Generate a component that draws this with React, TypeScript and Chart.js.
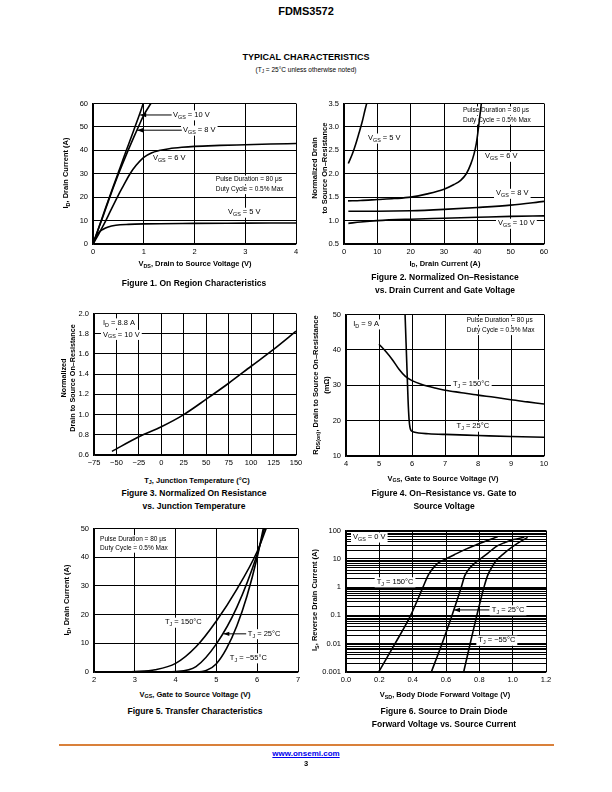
import React, { useEffect, useRef } from 'react';
import { Chart, registerables } from 'chart.js';
Chart.register(...registerables);

type P = [number, number];

// ---------- Figure 1: On Region Characteristics ----------
const fig1XTicks = [0, 1, 2, 3, 4];
const fig1XLabels = ['0', '1', '2', '3', '4'];
const fig1YTicks = [0, 10, 20, 30, 40, 50, 60];
const fig1YLabels = ['0', '10', '20', '30', '40', '50', '60'];
const fig1Vgs10: P[] = [[0, 0], [0.1, 6.2], [0.2, 12.4], [0.3, 18.6], [0.4, 24.6], [0.5, 30.6], [0.6, 36.6], [0.7, 42.5], [0.8, 48.4], [0.9, 54.3], [0.99, 60]];
const fig1Vgs8: P[] = [[0, 0], [0.1, 6], [0.2, 12], [0.3, 18.1], [0.4, 24.1], [0.5, 29.8], [0.6, 35.2], [0.7, 40.4], [0.8, 45.4], [0.9, 50.3], [1.0, 55], [1.14, 60]];
const fig1Vgs6: P[] = [[0, 0], [0.07, 2.6], [0.14, 5.4], [0.25, 9.9], [0.34, 13.9], [0.5, 20.9], [0.6, 24.9], [0.73, 30], [0.85, 33.6], [1.0, 37], [1.15, 38.9], [1.3, 39.9], [1.5, 40.7], [1.75, 41.3], [2, 41.7], [2.5, 42.1], [3, 42.4], [3.5, 42.7], [4, 42.9]];
const fig1Vgs5: P[] = [[0, 0], [0.05, 2.8], [0.1, 4.6], [0.2, 6.3], [0.3, 7.3], [0.45, 8.0], [0.7, 8.4], [1, 8.6], [2, 8.8], [3, 8.9], [4, 9.0]];

// ---------- Figure 2: Normalized On-Resistance vs Drain Current ----------
const fig2XTicks = [0, 10, 20, 30, 40, 50, 60];
const fig2XLabels = ['0', '10', '20', '30', '40', '50', '60'];
const fig2YTicks = [0.5, 1.0, 1.5, 2.0, 2.5, 3.0, 3.5];
const fig2YLabels = ['0.5', '1.0', '1.5', '2.0', '2.5', '3.0', '3.5'];
const fig2Vgs5: P[] = [[1.3, 2.22], [2.5, 2.42], [3.5, 2.63], [4.5, 2.87], [5.5, 3.12], [6.3, 3.36], [6.8, 3.5]];
const fig2Vgs6: P[] = [[1.2, 1.42], [5, 1.43], [10, 1.45], [15, 1.47], [20, 1.5], [25, 1.57], [30, 1.67], [33, 1.77], [35, 1.86], [36.7, 2.0], [38, 2.2], [39, 2.42], [39.7, 2.65], [40.2, 2.9], [40.7, 3.2], [41.2, 3.5]];
const fig2Vgs8: P[] = [[1.3, 1.2], [10, 1.2], [20, 1.21], [30, 1.24], [40, 1.28], [50, 1.33], [60, 1.41]];
const fig2Vgs10: P[] = [[1.3, 0.94], [5, 0.97], [10, 1.0], [20, 1.03], [30, 1.05], [40, 1.07], [50, 1.09], [60, 1.1]];

// ---------- Figure 3: Normalized On Resistance vs Junction Temperature ----------
const fig3XTicks = [-75, -50, -25, 0, 25, 50, 75, 100, 125, 150];
const fig3XLabels = ['−75', '−50', '−25', '0', '25', '50', '75', '100', '125', '150'];
const fig3YTicks = [0.6, 0.8, 1.0, 1.2, 1.4, 1.6, 1.8, 2.0];
const fig3YLabels = ['0.6', '0.8', '1.0', '1.2', '1.4', '1.6', '1.8', '2.0'];
const fig3Temp = [-55, -25, 0, 25, 50, 75, 100, 125, 150];
const fig3Rnorm = [0.636, 0.78, 0.88, 1.0, 1.152, 1.31, 1.478, 1.645, 1.825];

// ---------- Figure 4: On-Resistance vs Gate to Source Voltage ----------
const fig4XTicks = [4, 5, 6, 7, 8, 9, 10];
const fig4XLabels = ['4', '5', '6', '7', '8', '9', '10'];
const fig4YTicks = [10, 20, 30, 40, 50];
const fig4YLabels = ['10', '20', '30', '40', '50'];
const fig4Tj25: P[] = [[5.79, 50], [5.82, 42], [5.85, 34], [5.88, 26], [5.91, 20.5], [5.94, 18], [5.98, 17.1], [6.05, 16.8], [6.2, 16.5], [6.5, 16.3], [7, 16.1], [8, 15.8], [9, 15.5], [10, 15.3]];
const fig4Tj150: P[] = [[5, 41.6], [5.2, 39.6], [5.4, 37.3], [5.6, 34.6], [5.8, 32.5], [6, 31.3], [6.3, 30.2], [6.7, 29.2], [7, 28.6], [7.5, 27.9], [8, 27.2], [8.5, 26.6], [9, 25.9], [9.5, 25.3], [10, 24.7]];

// ---------- Figure 5: Transfer Characteristics ----------
const fig5XTicks = [2, 3, 4, 5, 6, 7];
const fig5XLabels = ['2', '3', '4', '5', '6', '7'];
const fig5YTicks = [0, 10, 20, 30, 40, 50];
const fig5YLabels = ['0', '10', '20', '30', '40', '50'];
const fig5Tj150: P[] = [[2, 0], [2.5, 0.03], [3, 0.2], [3.5, 0.8], [4, 3], [4.5, 8.8], [5, 17.8], [5.5, 28.8], [6, 42], [6.22, 50]];
const fig5Tj25: P[] = [[2, 0], [3.5, 0.02], [4, 0.2], [4.5, 1.9], [5, 9.8], [5.5, 22.5], [6, 41], [6.18, 50]];
const fig5TjM55: P[] = [[2, 0], [4.5, 0.05], [4.75, 0.5], [5, 2.9], [5.25, 8.2], [5.5, 16], [5.75, 26.5], [6, 40], [6.15, 50]];

// ---------- Figure 6: Source to Drain Diode Forward Voltage ----------
const fig6XTicks = [0, 0.2, 0.4, 0.6, 0.8, 1.0, 1.2];
const fig6XLabels = ['0.0', '0.2', '0.4', '0.6', '0.8', '1.0', '1.2'];
const fig6Decades = [0.001, 0.01, 0.1, 1, 10];
const fig6Mantissas = [1, 2, 3, 4, 5, 6, 7, 8, 9];
const fig6YTopTick = 100;
const fig6YTicks = fig6Decades.flatMap(d => fig6Mantissas.map(m => +(d * m).toPrecision(3))).concat([fig6YTopTick]);
const fig6YLabels = fig6Decades.flatMap(d => fig6Mantissas.map(m => (m === 1 ? String(d) : ''))).concat([String(fig6YTopTick)]);
const fig6Tj150: P[] = [[0.196, 0.001], [0.294, 0.01], [0.388, 0.1], [0.462, 1], [0.496, 2.8], [0.53, 5.3], [0.556, 7.3], [0.6, 10], [0.65, 14], [0.716, 21.5], [0.78, 31], [0.836, 42], [0.91, 60]];
const fig6Tj25: P[] = [[0.512, 0.001], [0.576, 0.01], [0.636, 0.1], [0.692, 1], [0.712, 2.5], [0.74, 4.5], [0.77, 6.8], [0.806, 10], [0.85, 15.5], [0.896, 26], [0.95, 37], [1.006, 48], [1.07, 58]];
const fig6TjM55: P[] = [[0.706, 0.001], [0.745, 0.01], [0.785, 0.1], [0.828, 1], [0.85, 2.6], [0.875, 5], [0.9, 8.5], [0.95, 16], [1.0, 27], [1.05, 42], [1.09, 57]];

// ---------- rendering helpers ----------
const FONT = "'Liberation Sans', Arial, Helvetica, sans-serif";
const AXW = 40, PADT = 8, PADR = 14, AXH = 18;

type Lbl = { x: number; y: number; text: string; size?: number; bg?: boolean };
type Arr = { x1: number; y1: number; x2: number; y2: number };

function parseRich(s: string) {
  const parts: { t: string; sub: boolean }[] = [];
  const re = /_\{([^}]*)\}/g;
  let last = 0;
  let m: RegExpExecArray | null;
  while ((m = re.exec(s))) {
    if (m.index > last) parts.push({ t: s.slice(last, m.index), sub: false });
    parts.push({ t: m[1], sub: true });
    last = re.lastIndex;
  }
  if (last < s.length) parts.push({ t: s.slice(last), sub: false });
  return parts;
}

function drawRich(ctx: CanvasRenderingContext2D, s: string, x: number, y: number, size: number, bg?: boolean) {
  const parts = parseRich(s);
  const sub = size * 0.72;
  ctx.save();
  ctx.textBaseline = 'middle';
  ctx.textAlign = 'left';
  const widths = parts.map(p => {
    ctx.font = `${p.sub ? sub : size}px ${FONT}`;
    return ctx.measureText(p.t).width;
  });
  const w = widths.reduce((a, b) => a + b, 0);
  if (bg) {
    ctx.fillStyle = '#fff';
    ctx.fillRect(x - 2, y - size * 0.62, w + 4, size * 1.34);
  }
  ctx.fillStyle = '#000';
  let cx = x;
  parts.forEach((p, i) => {
    ctx.font = `${p.sub ? sub : size}px ${FONT}`;
    ctx.fillText(p.t, cx, p.sub ? y + size * 0.3 : y);
    cx += widths[i];
  });
  ctx.restore();
}

function makeAnno(labels: Lbl[], arrows: Arr[]) {
  return {
    id: 'anno',
    beforeDatasetsDraw(chart: any) {
      const xs = chart.scales.x, ys = chart.scales.y;
      for (const l of labels) {
        drawRich(chart.ctx, l.text, xs.getPixelForValue(l.x), ys.getPixelForValue(l.y), l.size || 7.5, l.bg);
      }
    },
    afterDatasetsDraw(chart: any) {
      const ctx: CanvasRenderingContext2D = chart.ctx;
      const xs = chart.scales.x, ys = chart.scales.y;
      for (const a of arrows) {
        const x1 = xs.getPixelForValue(a.x1), y1 = ys.getPixelForValue(a.y1);
        const x2 = xs.getPixelForValue(a.x2), y2 = ys.getPixelForValue(a.y2);
        const ang = Math.atan2(y2 - y1, x2 - x1);
        ctx.save();
        ctx.strokeStyle = '#000';
        ctx.fillStyle = '#000';
        ctx.lineWidth = 1;
        ctx.beginPath();
        ctx.moveTo(x1, y1);
        ctx.lineTo(x2, y2);
        ctx.stroke();
        const L = 6, Wd = 2.2;
        ctx.beginPath();
        ctx.moveTo(x2, y2);
        ctx.lineTo(x2 - L * Math.cos(ang) + Wd * Math.sin(ang), y2 - L * Math.sin(ang) - Wd * Math.cos(ang));
        ctx.lineTo(x2 - L * Math.cos(ang) - Wd * Math.sin(ang), y2 - L * Math.sin(ang) + Wd * Math.cos(ang));
        ctx.closePath();
        ctx.fill();
        ctx.restore();
      }
    },
  };
}

function axis(dir: 'x' | 'y', type: string, ticks: number[], labels: string[]) {
  return {
    type,
    position: dir === 'x' ? 'bottom' : 'left',
    min: ticks[0],
    max: ticks[ticks.length - 1],
    afterBuildTicks: (s: any) => { s.ticks = ticks.map(v => ({ value: v })); },
    afterFit: (s: any) => { if (dir === 'x') s.height = AXH; else s.width = AXW; },
    ticks: {
      autoSkip: false,
      maxRotation: 0,
      minRotation: 0,
      padding: dir === 'x' ? 3 : 5,
      color: '#000',
      font: { family: FONT, size: 7.5 },
      callback: (_v: any, i: number) => labels[i],
    },
    grid: { color: '#000', lineWidth: 1, drawTicks: false },
    border: { color: '#000', width: 1.3 },
  };
}

type Cfg = {
  series: P[][];
  xTicks: number[]; xLabels: string[];
  yTicks: number[]; yLabels: string[];
  yType?: string;
  labels: Lbl[]; arrows: Arr[];
};

function ChartBox({ L, T, W, H, cfg }: { L: number; T: number; W: number; H: number; cfg: Cfg }) {
  const ref = useRef<HTMLCanvasElement>(null);
  useEffect(() => {
    const chart = new Chart(ref.current as HTMLCanvasElement, {
      type: 'scatter',
      data: {
        datasets: cfg.series.map(s => ({
          data: s.map(([x, y]) => ({ x, y })),
          showLine: true,
          borderColor: '#000',
          backgroundColor: '#000',
          borderWidth: 1.6,
          pointRadius: 0,
          cubicInterpolationMode: 'monotone',
          fill: false,
        })),
      },
      options: {
        responsive: false,
        animation: false,
        events: [],
        layout: { padding: { top: PADT, right: PADR, left: 0, bottom: 0 } },
        plugins: { legend: { display: false }, tooltip: { enabled: false } },
        scales: {
          x: axis('x', 'linear', cfg.xTicks, cfg.xLabels),
          y: axis('y', cfg.yType || 'linear', cfg.yTicks, cfg.yLabels),
        },
      } as any,
      plugins: [makeAnno(cfg.labels, cfg.arrows) as any],
    });
    return () => chart.destroy();
  }, []);
  const w = W + AXW + PADR, h = H + PADT + AXH;
  return (
    <canvas ref={ref} width={w} height={h}
      style={{ position: 'absolute', left: L - AXW, top: T - PADT, width: w, height: h }} />
  );
}

function Txt({ x, y, size = 7.5, bold = false, rot = false, color = '#000', lh, children }:
  { x: number; y: number; size?: number; bold?: boolean; rot?: boolean; color?: string; lh?: number; children: any }) {
  return (
    <div style={{
      position: 'absolute', left: x, top: y,
      transform: `translate(-50%, -50%)${rot ? ' rotate(-90deg)' : ''}`,
      fontFamily: FONT, fontSize: size, fontWeight: bold ? 700 : 400, color,
      whiteSpace: 'nowrap', lineHeight: lh ? `${lh}px` : 1, textAlign: 'center',
    }}>{children}</div>
  );
}

const Sub = ({ children }: { children: any }) => (
  <span style={{ fontSize: '0.72em', position: 'relative', top: '0.3em' }}>{children}</span>
);

const cfg1: Cfg = {
  series: [fig1Vgs10, fig1Vgs8, fig1Vgs6, fig1Vgs5],
  xTicks: fig1XTicks, xLabels: fig1XLabels, yTicks: fig1YTicks, yLabels: fig1YLabels,
  labels: [
    { x: 1.576, y: 55.1, text: 'V_{GS} = 10 V', bg: true },
    { x: 1.773, y: 48.6, text: 'V_{GS} = 8 V', bg: true },
    { x: 1.18, y: 36.8, text: 'V_{GS} = 6 V', bg: true },
    { x: 2.42, y: 27.5, text: 'Pulse Duration = 80 μs', size: 6.5, bg: true },
    { x: 2.42, y: 23.3, text: 'Duty Cycle = 0.5% Max', size: 6.5, bg: true },
    { x: 2.66, y: 13.5, text: 'V_{GS} = 5 V', bg: true },
  ],
  arrows: [
    { x1: 1.55, y1: 55.1, x2: 0.93, y2: 55.1 },
    { x1: 1.75, y1: 48.6, x2: 0.87, y2: 48.6 },
  ],
};

const cfg2: Cfg = {
  series: [fig2Vgs5, fig2Vgs6, fig2Vgs8, fig2Vgs10],
  xTicks: fig2XTicks, xLabels: fig2XLabels, yTicks: fig2YTicks, yLabels: fig2YLabels,
  labels: [
    { x: 35.7, y: 3.35, text: 'Pulse Duration = 80 μs', size: 6.5, bg: true },
    { x: 35.7, y: 3.15, text: 'Duty Cycle = 0.5% Max', size: 6.5, bg: true },
    { x: 7.2, y: 2.76, text: 'V_{GS} = 5 V', bg: true },
    { x: 42.3, y: 2.37, text: 'V_{GS} = 6 V', bg: true },
    { x: 45.6, y: 1.58, text: 'V_{GS} = 8 V', bg: true },
    { x: 46.2, y: 0.94, text: 'V_{GS} = 10 V', bg: true },
  ],
  arrows: [],
};

const cfg3: Cfg = {
  series: [fig3Temp.map((t, i) => [t, fig3Rnorm[i]] as P)],
  xTicks: fig3XTicks, xLabels: fig3XLabels, yTicks: fig3YTicks, yLabels: fig3YLabels,
  labels: [
    { x: -65, y: 1.906, text: 'I_{D} = 8.8 A', bg: true },
    { x: -65, y: 1.792, text: 'V_{GS} = 10 V', bg: true },
  ],
  arrows: [],
};

const cfg4: Cfg = {
  series: [fig4Tj25, fig4Tj150],
  xTicks: fig4XTicks, xLabels: fig4XLabels, yTicks: fig4YTicks, yLabels: fig4YLabels,
  labels: [
    { x: 4.22, y: 47.3, text: 'I_{D} = 9 A', bg: true },
    { x: 7.66, y: 48.3, text: 'Pulse Duration = 80 μs', size: 6.5, bg: true },
    { x: 7.66, y: 45.5, text: 'Duty Cycle = 0.5% Max', size: 6.5, bg: true },
    { x: 7.24, y: 30.3, text: 'T_{J} = 150°C', bg: true },
    { x: 7.35, y: 18.4, text: 'T_{J} = 25°C', bg: true },
  ],
  arrows: [],
};

const cfg5: Cfg = {
  series: [fig5Tj150, fig5Tj25, fig5TjM55],
  xTicks: fig5XTicks, xLabels: fig5XLabels, yTicks: fig5YTicks, yLabels: fig5YLabels,
  labels: [
    { x: 2.15, y: 46.3, text: 'Pulse Duration = 80 μs', size: 6.5, bg: true },
    { x: 2.15, y: 43.2, text: 'Duty Cycle = 0.5% Max', size: 6.5, bg: true },
    { x: 3.74, y: 17.3, text: 'T_{J} = 150°C', bg: true },
    { x: 5.77, y: 13.3, text: 'T_{J} = 25°C', bg: true },
    { x: 5.33, y: 4.9, text: 'T_{J} = −55°C', bg: true },
  ],
  arrows: [{ x1: 5.73, y1: 13.3, x2: 5.17, y2: 13.3 }],
};

const cfg6: Cfg = {
  series: [fig6Tj150, fig6Tj25, fig6TjM55],
  xTicks: fig6XTicks, xLabels: fig6XLabels, yTicks: fig6YTicks, yLabels: fig6YLabels,
  yType: 'logarithmic',
  labels: [
    { x: 0.042, y: 58.3, text: 'V_{GS} = 0 V', bg: true },
    { x: 0.184, y: 1.52, text: 'T_{J} = 150°C', bg: true },
    { x: 0.875, y: 0.156, text: 'T_{J} = 25°C', bg: true },
    { x: 0.794, y: 0.01315, text: 'T_{J} = −55°C', bg: true },
  ],
  arrows: [{ x1: 0.86, y1: 0.156, x2: 0.648, y2: 0.156 }],
};

export default function App() {
  return (
    <div style={{ position: 'absolute', left: 0, top: 0, width: 612, height: 792, background: '#fff', overflow: 'hidden' }}>
      <Txt x={306} y={11} size={11} bold>FDMS3572</Txt>
      <Txt x={306} y={57} size={9} bold>TYPICAL CHARACTERISTICS</Txt>
      <Txt x={306} y={70} size={6.5}>(T<Sub>J</Sub> = 25°C unless otherwise noted)</Txt>

      <ChartBox L={93} T={102} W={203} H={142} cfg={cfg1} />
      <ChartBox L={344} T={102} W={200} H={142} cfg={cfg2} />
      <ChartBox L={94} T={312} W={202} H={143} cfg={cfg3} />
      <ChartBox L={346} T={313} W={198} H={143} cfg={cfg4} />
      <ChartBox L={94} T={527} W={204} H={145} cfg={cfg5} />
      <ChartBox L={346} T={529} W={200} H={143} cfg={cfg6} />

      {/* Figure 1 */}
      <Txt x={195} y={264} bold>V<Sub>DS</Sub>, Drain to Source Voltage (V)</Txt>
      <Txt x={66} y={173} bold rot>I<Sub>D</Sub>, Drain Current (A)</Txt>
      <Txt x={194} y={283} size={8.5} bold>Figure 1. On Region Characteristics</Txt>

      {/* Figure 2 */}
      <Txt x={445} y={263.5} bold>I<Sub>D</Sub>, Drain Current (A)</Txt>
      <Txt x={320} y={168} bold rot lh={10}>Normalized Drain<br />to Source On–Resistance</Txt>
      <Txt x={445} y={277} size={8.5} bold>Figure 2. Normalized On–Resistance</Txt>
      <Txt x={445} y={289.5} size={8.5} bold>vs. Drain Current and Gate Voltage</Txt>

      {/* Figure 3 */}
      <Txt x={197} y={480.5} bold>T<Sub>J</Sub>, Junction Temperature (°C)</Txt>
      <Txt x={67.5} y={378} size={7.2} bold rot lh={9}>Normalized<br />Drain to Source On–Resistance</Txt>
      <Txt x={194} y={493} size={8.5} bold>Figure 3. Normalized On Resistance</Txt>
      <Txt x={194} y={505.5} size={8.5} bold>vs. Junction Temperature</Txt>

      {/* Figure 4 */}
      <Txt x={443} y={478.5} bold>V<Sub>GS</Sub>, Gate to Source Voltage (V)</Txt>
      <Txt x={320.5} y={385} bold rot lh={10.5}>R<Sub>DS(on)</Sub>, Drain to Source On–Resistance<br />(mΩ)</Txt>
      <Txt x={444} y={493} size={8.5} bold>Figure 4. On–Resistance vs. Gate to</Txt>
      <Txt x={444} y={505.5} size={8.5} bold>Source Voltage</Txt>

      {/* Figure 5 */}
      <Txt x={195} y={694.5} bold>V<Sub>GS</Sub>, Gate to Source Voltage (V)</Txt>
      <Txt x={66.5} y={600} bold rot>I<Sub>D</Sub>, Drain Current (A)</Txt>
      <Txt x={195} y={711} size={8.5} bold>Figure 5. Transfer Characteristics</Txt>

      {/* Figure 6 */}
      <Txt x={445} y={695} bold>V<Sub>SD</Sub>, Body Diode Forward Voltage (V)</Txt>
      <Txt x={315} y={600} bold rot>I<Sub>S</Sub>, Reverse Drain Current (A)</Txt>
      <Txt x={444} y={711} size={8.5} bold>Figure 6. Source to Drain Diode</Txt>
      <Txt x={444} y={723.5} size={8.5} bold>Forward Voltage vs. Source Current</Txt>

      {/* Footer */}
      <div style={{ position: 'absolute', left: 59, top: 744, width: 495, height: 2, background: '#D9803A' }} />
      <Txt x={306} y={753.5} size={8} bold color="#0000EE"><span style={{ textDecoration: 'underline' }}>www.onsemi.com</span></Txt>
      <Txt x={306} y={764} size={7.5} bold>3</Txt>
    </div>
  );
}
